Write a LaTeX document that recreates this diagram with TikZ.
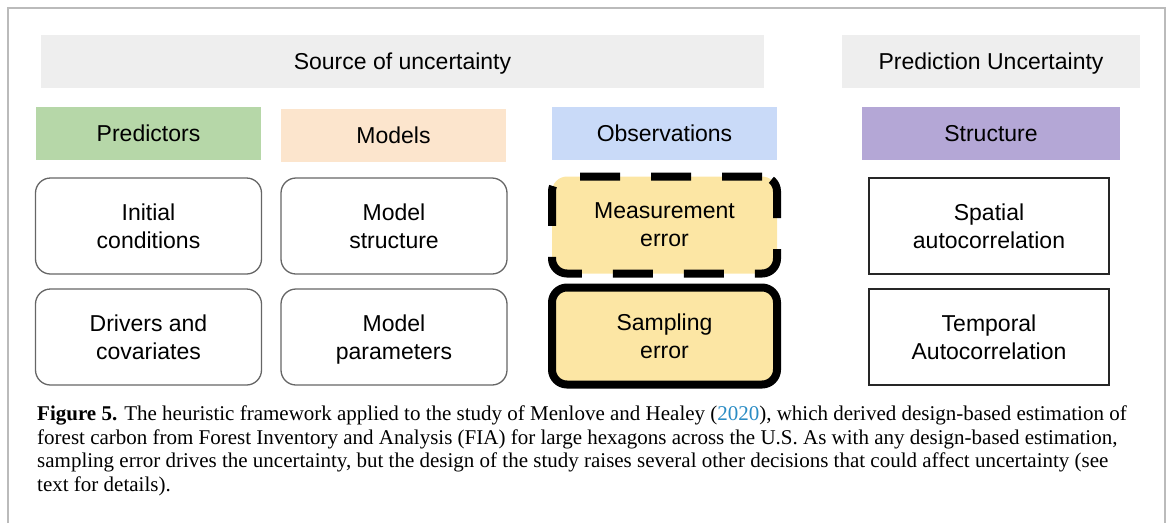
\documentclass[tikz,border=0pt]{standalone}
\usepackage{fontspec}
\setmainfont{Liberation Serif}
\setsansfont{Liberation Sans}
\usepackage{tikz}
\definecolor{hdrgray}{HTML}{EEEEEE}
\definecolor{predgreen}{HTML}{B6D7A8}
\definecolor{modorange}{HTML}{FCE5CD}
\definecolor{obsblue}{HTML}{C9DAF8}
\definecolor{strpurple}{HTML}{B4A7D6}
\definecolor{erryellow}{HTML}{FCE6A4}
\definecolor{citeblue}{HTML}{2A8CC4}
\definecolor{framegray}{HTML}{BBBBBB}

\begin{document}
\begin{tikzpicture}[x=1pt,y=-1pt,
  lbl/.style={font=\sffamily\fontsize{23}{28}\selectfont,align=center,inner sep=0pt,text depth=0pt},
  hdr/.style={lbl,minimum height=53pt},
  cell/.style={lbl,draw=black!60,line width=1.3pt,rounded corners=15pt,minimum width=226pt,minimum height=96pt},
  errcell/.style={lbl,draw=black,fill=erryellow,line width=8pt,rounded corners=15pt,minimum width=225pt,minimum height=97pt},
  strcell/.style={lbl,draw=black!85,line width=1.3pt,minimum width=240pt,minimum height=96pt}]
\useasboundingbox (0,0) rectangle (1171,523);
\draw[framegray,line width=1.5pt] (8,523) -- (8,8) -- (1165,8) -- (1165,523);

\node[hdr,fill=hdrgray,minimum width=723pt] (source) at (402.5,61.5) {Source of uncertainty};
\node[hdr,fill=hdrgray,minimum width=298pt] (predunc) at (991,61.5) {Prediction Uncertainty};
\node[hdr,fill=predgreen,minimum width=225pt] (predictors) at (148.5,133.5) {Predictors};
\node[hdr,fill=modorange,minimum width=225pt] (models) at (393.5,135.5) {Models};
\node[hdr,fill=obsblue,minimum width=225pt] (observations) at (664.5,133.5) {Observations};
\node[hdr,fill=strpurple,minimum width=258pt] (structure) at (991,133.5) {Structure};

\node[cell] (initcond) at (148.5,226) {Initial\\conditions};
\node[cell] (drivers) at (148.5,337) {Drivers and\\covariates};
\node[cell] (modstruct) at (394,226) {Model\\structure};
\node[cell] (modparam) at (394,337) {Model\\parameters};
\node[errcell,dash pattern=on 40pt off 31pt] (measerr) at (664.5,225) {Measurement\\error};
\node[errcell] (samperr) at (664.5,336) {Sampling\\error};
\node[strcell] (spatial) at (989,226) {Spatial\\autocorrelation};
\node[strcell] (temporal) at (989,337) {Temporal\\Autocorrelation};

\node[anchor=north west,align=left,inner sep=0pt,font=\fontsize{21}{23.5}\selectfont] (caption) at (37,406)
  {\textbf{Figure 5.} The heuristic framework applied to the study of Menlove and Healey (\textcolor{citeblue}{2020}), which derived design-based estimation of\\
   forest carbon from Forest Inventory and Analysis (FIA) for large hexagons across the U.S. As with any design-based estimation,\\
   sampling error drives the uncertainty, but the design of the study raises several other decisions that could affect uncertainty (see\\
   text for details).};
\end{tikzpicture}
\end{document}
